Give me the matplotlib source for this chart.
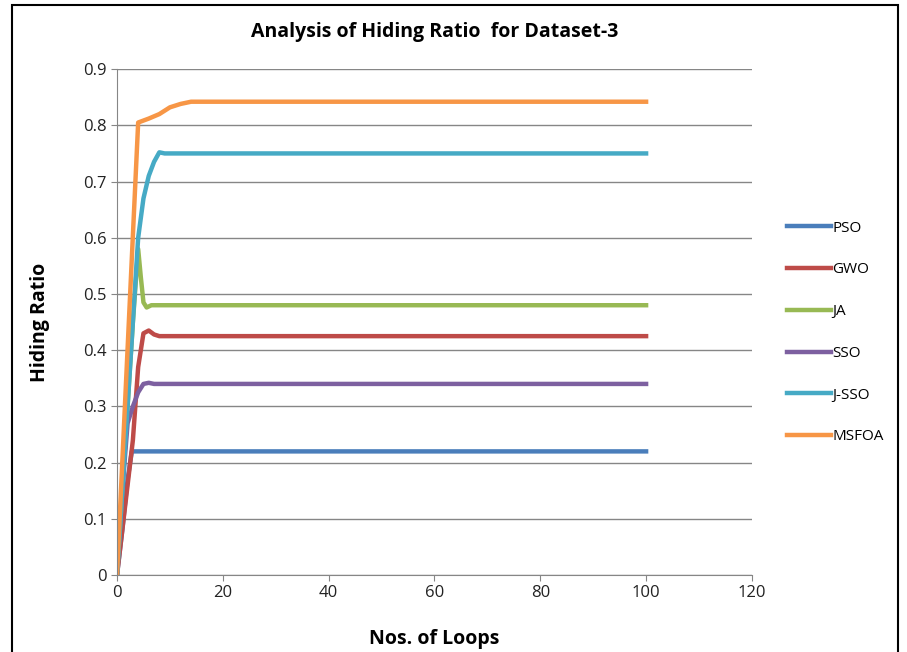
import matplotlib
matplotlib.use("Agg")
import matplotlib.pyplot as plt
from matplotlib.patches import Rectangle

plt.rcParams['font.family'] = ['Open Sans', 'DejaVu Sans']

# data
pso_x = [0, 1, 2, 2.8, 100]
pso_y = [0, 0.08, 0.17, 0.22, 0.22]
gwo_x = [0, 1, 2, 3, 4, 5, 6, 7, 8, 100]
gwo_y = [0, 0.08, 0.16, 0.24, 0.37, 0.43, 0.435, 0.428, 0.425, 0.425]
ja_x = [0, 1, 2, 3, 4, 4.5, 5, 5.6, 6.5, 8, 100]
ja_y = [0, 0.15, 0.3, 0.45, 0.58, 0.53, 0.485, 0.476, 0.48, 0.48, 0.48]
sso_x = [0, 1, 2, 3, 4, 5, 6, 7, 8, 100]
sso_y = [0, 0.15, 0.27, 0.3, 0.325, 0.34, 0.342, 0.34, 0.34, 0.34]
jsso_x = [0, 1, 2, 3, 4, 5, 6, 7, 8, 9, 100]
jsso_y = [0, 0.15, 0.3, 0.45, 0.6, 0.67, 0.71, 0.735, 0.752, 0.75, 0.75]
msfoa_x = [0, 4, 6, 8, 10, 12, 14, 16, 100]
msfoa_y = [0, 0.805, 0.812, 0.82, 0.832, 0.838, 0.842, 0.842, 0.842]

names = ['PSO', 'GWO', 'JA', 'SSO', 'J-SSO', 'MSFOA']
colors = ['#4a7ebb', '#be4b48', '#98b954', '#7d60a0', '#46aac5', '#f79646']
series = [(pso_x, pso_y), (gwo_x, gwo_y), (ja_x, ja_y),
          (sso_x, sso_y), (jsso_x, jsso_y), (msfoa_x, msfoa_y)]

fig = plt.figure(figsize=(9.07, 6.52), dpi=100)
ax = fig.add_axes([0.129, 0.118, 0.700, 0.776])

for (xs, ys), name, c in zip(series, names, colors):
    ax.plot(xs, ys, color=c, lw=3.2, label=name, solid_joinstyle='round')

ax.set_xlim(0, 120)
ax.set_ylim(0, 0.9)
ax.set_xticks(range(0, 121, 20))
ax.set_yticks([i / 10 for i in range(10)])
ax.set_yticklabels(['0'] + ['%.1f' % (i / 10) for i in range(1, 10)])
ax.yaxis.grid(True, color='#868686', lw=1)
ax.set_axisbelow(True)
for s in ['top', 'right']:
    ax.spines[s].set_visible(False)
for s in ['left', 'bottom']:
    ax.spines[s].set_color('#868686')
ax.tick_params(colors='#868686', labelcolor='#222222', labelsize=12, length=4)

ax.set_title('Analysis of Hiding Ratio  for Dataset-3', fontsize=14, fontweight='bold', pad=23)
ax.set_xlabel('Nos. of Loops', fontsize=14, fontweight='bold', labelpad=20)
ax.set_ylabel('Hiding Ratio', fontsize=14, fontweight='bold', labelpad=24)

fig.legend(loc='center left', bbox_to_anchor=(0.852, 0.49), frameon=False,
           fontsize=11, handlelength=2.9, handletextpad=0.1, labelspacing=1.75)

fig.patches.append(Rectangle((0.013, -0.01), 0.977, 1.002, transform=fig.transFigure,
                             fill=False, edgecolor='black', lw=1.5))

fig.savefig('out.png', dpi=100)
